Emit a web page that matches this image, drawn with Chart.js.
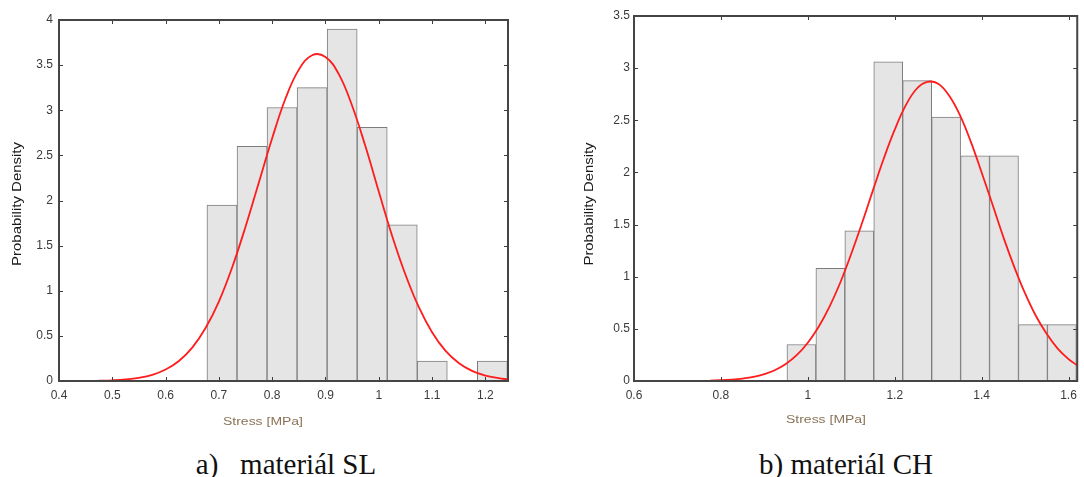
<!DOCTYPE html>
<html>
<head>
<meta charset="utf-8">
<script src="https://cdn.jsdelivr.net/npm/chart.js@4.4.1/dist/chart.umd.min.js"></script>
<style>
  html, body { margin: 0; padding: 0; background: #fff; }
  body { width: 1084px; height: 477px; position: relative; overflow: hidden; }
  canvas { position: absolute; top: 0; }
  #chart-sl { left: 0; }
  #chart-ch { left: 540px; }
  .caption {
    position: absolute; top: 450px; margin: 0;
    font-family: "Liberation Serif", "Times New Roman", serif;
    font-size: 29px; line-height: 29px; color: #111;
    white-space: pre; transform: translateX(-50%);
  }
</style>
</head>
<body>
<canvas id="chart-sl" width="540" height="440"></canvas>
<canvas id="chart-ch" width="544" height="440"></canvas>
<p class="caption" style="left:286px">a)   materiál SL</p>
<p class="caption" style="left:846px">b) materiál CH</p>

<script>
// material SL - histogram bins and normal fit
const binEdgesSL = [0.6776, 0.7340, 0.7904, 0.8467, 0.9031, 0.9595, 1.0159, 1.0722, 1.1286, 1.1850, 1.2413];
const densitySL = [1.95, 2.60, 3.03, 3.25, 3.90, 2.81, 1.73, 0.22, 0, 0.22];
const fitXSL = [0.475, 0.5, 0.525, 0.55, 0.575, 0.6, 0.625, 0.65, 0.675, 0.7, 0.725, 0.75, 0.775, 0.8, 0.825, 0.85,
  0.875, 0.9, 0.925, 0.95, 0.975, 1.0, 1.025, 1.05, 1.075, 1.1, 1.125, 1.15, 1.175, 1.2, 1.225, 1.2425];
const fitYSL = [0.004, 0.008, 0.017, 0.035, 0.068, 0.127, 0.222, 0.37, 0.587, 0.88, 1.26, 1.71, 2.2, 2.69, 3.13, 3.45,
  3.61, 3.59, 3.40, 3.05, 2.60, 2.10, 1.61, 1.18, 0.82, 0.54, 0.336, 0.20, 0.112, 0.06, 0.031, 0.018];
const xTicksSL = [0.4, 0.5, 0.6, 0.7, 0.8, 0.9, 1, 1.1, 1.2];
const yTicksSL = [0, 0.5, 1, 1.5, 2, 2.5, 3, 3.5, 4];

// material CH
const binEdgesCH = [0.9520, 1.0186, 1.0852, 1.1518, 1.2184, 1.2850, 1.3516, 1.4182, 1.4848, 1.5514, 1.6180];
const densityCH = [0.35, 1.08, 1.44, 3.06, 2.88, 2.53, 2.16, 2.16, 0.54, 0.54];
const fitXCH = [0.775, 0.8, 0.825, 0.85, 0.875, 0.9, 0.925, 0.95, 0.975, 1.0, 1.025, 1.05, 1.075, 1.1, 1.125, 1.15,
  1.175, 1.2, 1.225, 1.25, 1.275, 1.3, 1.325, 1.35, 1.375, 1.4, 1.425, 1.45, 1.475, 1.5, 1.525, 1.55, 1.575, 1.6, 1.62];
const fitYCH = [0.004, 0.007, 0.013, 0.023, 0.039, 0.066, 0.106, 0.166, 0.25, 0.367, 0.52, 0.713, 0.947, 1.22, 1.517, 1.83,
  2.136, 2.41, 2.64, 2.80, 2.868, 2.85, 2.738, 2.55, 2.296, 2.00, 1.692, 1.38, 1.095, 0.84, 0.623, 0.45, 0.311, 0.21, 0.15];
const xTicksCH = [0.6, 0.8, 1, 1.2, 1.4, 1.6];
const yTicksCH = [0, 0.5, 1, 1.5, 2, 2.5, 3, 3.5];

const xTitle = "Stress [MPa]";
const yTitle = "Probability Density";

const tickFont = { family: "'Liberation Sans', Arial, sans-serif", size: 12 };

// box around the plot with small inward ticks on all four sides
const frameTicks = {
  id: "frameTicks",
  afterDatasetsDraw(chart) {
    const { ctx, chartArea: a, scales: { x, y } } = chart;
    ctx.save();
    ctx.strokeStyle = "#3d3d3d";
    ctx.lineWidth = 1;
    ctx.beginPath();
    x.ticks.forEach(t => {
      const px = Math.round(x.getPixelForValue(t.value)) + 0.5;
      ctx.moveTo(px, a.bottom); ctx.lineTo(px, a.bottom - 4);
      ctx.moveTo(px, a.top); ctx.lineTo(px, a.top + 4);
    });
    y.ticks.forEach(t => {
      const py = Math.round(y.getPixelForValue(t.value)) + 0.5;
      ctx.moveTo(a.left, py); ctx.lineTo(a.left + 4, py);
      ctx.moveTo(a.right, py); ctx.lineTo(a.right - 4, py);
    });
    ctx.stroke();
    ctx.lineWidth = 2;
    ctx.strokeStyle = "#454545";
    ctx.strokeRect(a.left, a.top, a.width, a.height);
    ctx.restore();
  }
};

// axis titles, stretched a little like in the original figure
const axisTitles = {
  id: "axisTitles",
  afterDraw(chart, args, opts) {
    const { ctx, chartArea: a } = chart;
    ctx.save();
    ctx.textAlign = "center";
    ctx.textBaseline = "middle";

    ctx.font = "12px 'Liberation Sans', Arial, sans-serif";
    ctx.fillStyle = "#1a1a1a";
    let w = ctx.measureText(yTitle).width;
    ctx.translate(opts.yX, a.top + opts.yDy);
    ctx.rotate(-Math.PI / 2);
    ctx.scale(opts.yLen / w, 1);
    ctx.fillText(yTitle, 0, 0);
    ctx.setTransform(1, 0, 0, 1, 0, 0);

    ctx.font = "10px 'Liberation Sans', Arial, sans-serif";
    ctx.fillStyle = "#8a7358";
    w = ctx.measureText(xTitle).width;
    ctx.translate(a.left + opts.xDx, opts.xY);
    ctx.scale(opts.xLen / w, 1);
    ctx.fillText(xTitle, 0, 0);
    ctx.restore();
  }
};

function makeChart(id, edges, density, fitX, fitY, xMin, xMax, xTicks, yMax, yTicks, yWidth, pad, labelPad, titles) {
  const bars = density.map((v, i) => ({ x: (edges[i] + edges[i + 1]) / 2, y: v }));
  const curve = fitX.map((v, i) => ({ x: v, y: fitY[i] }));
  return new Chart(document.getElementById(id), {
    type: "bar",
    data: {
      datasets: [
        {
          type: "line",
          data: curve,
          borderColor: "#ff1c1c",
          borderWidth: 1.8,
          pointRadius: 0,
          tension: 0.4,
          order: 1,
        },
        {
          type: "bar",
          data: bars,
          backgroundColor: "#e5e5e5",
          borderColor: "#7c7c7c",
          borderWidth: 1,
          barPercentage: 1,
          categoryPercentage: 1,
          order: 2,
        },
      ],
    },
    options: {
      responsive: false,
      animation: false,
      events: [],
      layout: { padding: pad },
      plugins: {
        legend: { display: false },
        tooltip: { enabled: false },
        axisTitles: titles,
      },
      scales: {
        x: {
          type: "linear",
          min: xMin,
          max: xMax,
          offset: false,
          grid: { display: false, drawTicks: false },
          border: { display: false },
          afterBuildTicks: s => { s.ticks = xTicks.map(v => ({ value: v })); },
          afterFit: s => { s.height = 40; },
          ticks: { padding: 7, font: tickFont, color: "#3a3a3a", maxRotation: 0, autoSkip: false, callback: v => String(v) },
        },
        y: {
          min: 0,
          max: yMax,
          grid: { display: false, drawTicks: false },
          border: { display: false },
          afterBuildTicks: s => { s.ticks = yTicks.map(v => ({ value: v })); },
          afterFit: s => { s.width = yWidth; },
          ticks: { padding: labelPad, font: tickFont, color: "#3a3a3a", callback: v => String(v) },
        },
      },
    },
    plugins: [frameTicks, axisTitles],
  });
}

makeChart("chart-sl", binEdgesSL, densitySL, fitXSL, fitYSL, 0.4, 1.2425, xTicksSL, 4, yTicksSL,
  59, { left: 0, right: 32, top: 20, bottom: 19 }, 6,
  { yX: 18, yDy: 184, yLen: 124, xDx: 204, xY: 422, xLen: 80 });

makeChart("chart-ch", binEdgesCH, densityCH, fitXCH, fitYCH, 0.6, 1.62, xTicksCH, 3.5, yTicksCH,
  94, { left: 0, right: 6, top: 16, bottom: 19 }, 4,
  { yX: 50, yDy: 188, yLen: 123, xDx: 192, xY: 420, xLen: 80 });
</script>
</body>
</html>
